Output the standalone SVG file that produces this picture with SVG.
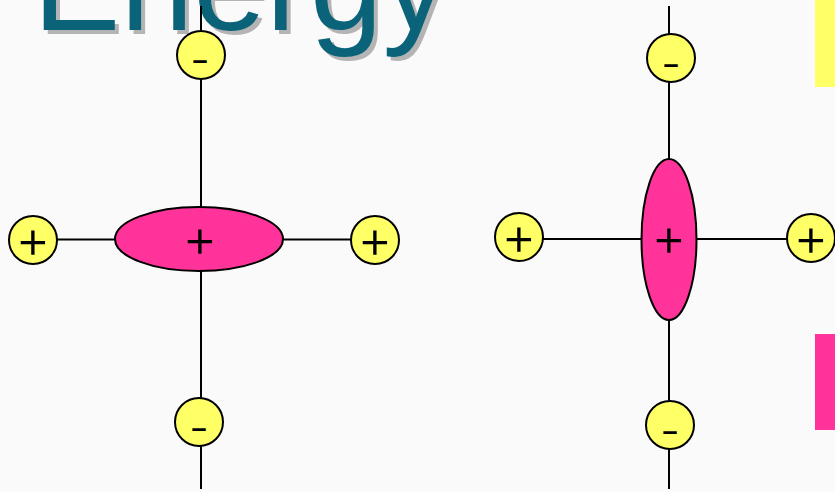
<svg xmlns="http://www.w3.org/2000/svg" width="835" height="492" viewBox="0 0 835 492">
<style>
.ln{stroke:#000;stroke-width:2;fill:none}
.chg{fill:#FFFF66;stroke:#000;stroke-width:2}
.nuc{fill:#FF3399;stroke:#000;stroke-width:2}
.pl{font-family:Inter,"Liberation Sans",sans-serif;font-weight:300;font-size:54px;text-anchor:middle;fill:#000}
.mn{font-family:"Liberation Sans",Arial,sans-serif;font-size:27px;font-weight:bold;text-anchor:middle;fill:#000}
.ttl{font-family:"Liberation Sans",Arial,sans-serif;font-size:131px}
</style>
<rect width="835" height="492" fill="#FAFAFA"/>
<g id="title">
<text class="ttl" x="37" y="34" fill="#B4B4B4">Energy</text>
<text class="ttl" x="33" y="30" fill="#0A6379">Energy</text>
</g>
<rect id="bar-yellow" x="815" y="0" width="20" height="87" fill="#FFFF66"/>
<rect id="bar-pink" x="815" y="334" width="20" height="96" fill="#FF3399"/>
<g id="connectors">
<line class="ln" x1="201" y1="6" x2="201" y2="489"/>
<line class="ln" x1="33" y1="239.5" x2="375" y2="239.5"/>
<line class="ln" x1="669" y1="6" x2="669" y2="489"/>
<line class="ln" x1="519" y1="239" x2="811" y2="239"/>
</g>
<g id="left-top-minus"><circle class="chg" cx="201" cy="55" r="24"/><text class="mn" x="200" y="69">–</text></g>
<g id="left-bottom-minus"><circle class="chg" cx="199" cy="422" r="24"/><text class="mn" x="199" y="437">–</text></g>
<g id="left-left-plus"><circle class="chg" cx="33" cy="240" r="24"/><text class="pl" x="33" y="258">+</text></g>
<g id="left-right-plus"><circle class="chg" cx="375" cy="240" r="24"/><text class="pl" x="375" y="258">+</text></g>
<g id="left-nucleus"><ellipse class="nuc" cx="199" cy="239" rx="84" ry="32"/><text class="pl" x="200" y="257">+</text></g>
<g id="right-top-minus"><circle class="chg" cx="671" cy="58" r="24"/><text class="mn" x="671" y="73">–</text></g>
<g id="right-bottom-minus"><circle class="chg" cx="670" cy="425" r="24"/><text class="mn" x="670" y="440">–</text></g>
<g id="right-left-plus"><circle class="chg" cx="519" cy="237" r="24"/><text class="pl" x="519" y="255">+</text></g>
<g id="right-right-plus"><circle class="chg" cx="811" cy="238" r="24"/><text class="pl" x="811" y="256">+</text></g>
<g id="right-nucleus"><ellipse class="nuc" cx="669" cy="239.5" rx="27.5" ry="80.5"/><text class="pl" x="669" y="256">+</text></g>
</svg>
